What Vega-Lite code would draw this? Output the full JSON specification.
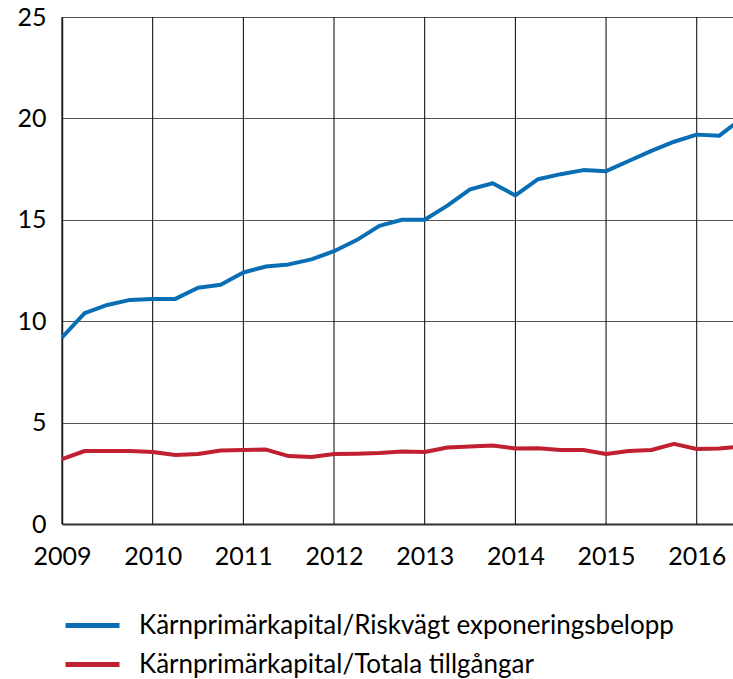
{
  "$schema": "https://vega.github.io/schema/vega-lite/v6.json",
  "width": 671,
  "height": 507,
  "autosize": {"type": "none"},
  "padding": {"left": 62, "top": 17, "right": 0, "bottom": 155},
  "background": "white",
  "config": {
    "font": "Lato",
    "view": {"stroke": null},
    "axis": {"labelFont": "Lato", "labelFontSize": 25, "labelColor": "#000", "ticks": false, "title": null}
  },
  "data": {
    "values": [
      {"t": 2009.0, "s": "Kärnprimärkapital/Riskvägt exponeringsbelopp", "v": 9.2},
      {"t": 2009.25, "s": "Kärnprimärkapital/Riskvägt exponeringsbelopp", "v": 10.4},
      {"t": 2009.5, "s": "Kärnprimärkapital/Riskvägt exponeringsbelopp", "v": 10.8},
      {"t": 2009.75, "s": "Kärnprimärkapital/Riskvägt exponeringsbelopp", "v": 11.05},
      {"t": 2010.0, "s": "Kärnprimärkapital/Riskvägt exponeringsbelopp", "v": 11.1},
      {"t": 2010.25, "s": "Kärnprimärkapital/Riskvägt exponeringsbelopp", "v": 11.1},
      {"t": 2010.5, "s": "Kärnprimärkapital/Riskvägt exponeringsbelopp", "v": 11.65},
      {"t": 2010.75, "s": "Kärnprimärkapital/Riskvägt exponeringsbelopp", "v": 11.8},
      {"t": 2011.0, "s": "Kärnprimärkapital/Riskvägt exponeringsbelopp", "v": 12.4},
      {"t": 2011.25, "s": "Kärnprimärkapital/Riskvägt exponeringsbelopp", "v": 12.7},
      {"t": 2011.5, "s": "Kärnprimärkapital/Riskvägt exponeringsbelopp", "v": 12.8},
      {"t": 2011.75, "s": "Kärnprimärkapital/Riskvägt exponeringsbelopp", "v": 13.05},
      {"t": 2012.0, "s": "Kärnprimärkapital/Riskvägt exponeringsbelopp", "v": 13.45},
      {"t": 2012.25, "s": "Kärnprimärkapital/Riskvägt exponeringsbelopp", "v": 14.0},
      {"t": 2012.5, "s": "Kärnprimärkapital/Riskvägt exponeringsbelopp", "v": 14.7},
      {"t": 2012.75, "s": "Kärnprimärkapital/Riskvägt exponeringsbelopp", "v": 15.0},
      {"t": 2013.0, "s": "Kärnprimärkapital/Riskvägt exponeringsbelopp", "v": 15.0},
      {"t": 2013.25, "s": "Kärnprimärkapital/Riskvägt exponeringsbelopp", "v": 15.7},
      {"t": 2013.5, "s": "Kärnprimärkapital/Riskvägt exponeringsbelopp", "v": 16.5},
      {"t": 2013.75, "s": "Kärnprimärkapital/Riskvägt exponeringsbelopp", "v": 16.8},
      {"t": 2014.0, "s": "Kärnprimärkapital/Riskvägt exponeringsbelopp", "v": 16.2},
      {"t": 2014.25, "s": "Kärnprimärkapital/Riskvägt exponeringsbelopp", "v": 17.0},
      {"t": 2014.5, "s": "Kärnprimärkapital/Riskvägt exponeringsbelopp", "v": 17.25},
      {"t": 2014.75, "s": "Kärnprimärkapital/Riskvägt exponeringsbelopp", "v": 17.45},
      {"t": 2015.0, "s": "Kärnprimärkapital/Riskvägt exponeringsbelopp", "v": 17.4},
      {"t": 2015.25, "s": "Kärnprimärkapital/Riskvägt exponeringsbelopp", "v": 17.9},
      {"t": 2015.5, "s": "Kärnprimärkapital/Riskvägt exponeringsbelopp", "v": 18.4},
      {"t": 2015.75, "s": "Kärnprimärkapital/Riskvägt exponeringsbelopp", "v": 18.85},
      {"t": 2016.0, "s": "Kärnprimärkapital/Riskvägt exponeringsbelopp", "v": 19.2},
      {"t": 2016.25, "s": "Kärnprimärkapital/Riskvägt exponeringsbelopp", "v": 19.15},
      {"t": 2016.5, "s": "Kärnprimärkapital/Riskvägt exponeringsbelopp", "v": 20.0},
      {"t": 2009.0, "s": "Kärnprimärkapital/Totala tillgångar", "v": 3.2},
      {"t": 2009.25, "s": "Kärnprimärkapital/Totala tillgångar", "v": 3.6},
      {"t": 2009.5, "s": "Kärnprimärkapital/Totala tillgångar", "v": 3.6},
      {"t": 2009.75, "s": "Kärnprimärkapital/Totala tillgångar", "v": 3.6},
      {"t": 2010.0, "s": "Kärnprimärkapital/Totala tillgångar", "v": 3.55},
      {"t": 2010.25, "s": "Kärnprimärkapital/Totala tillgångar", "v": 3.4},
      {"t": 2010.5, "s": "Kärnprimärkapital/Totala tillgångar", "v": 3.45},
      {"t": 2010.75, "s": "Kärnprimärkapital/Totala tillgångar", "v": 3.62},
      {"t": 2011.0, "s": "Kärnprimärkapital/Totala tillgångar", "v": 3.65},
      {"t": 2011.25, "s": "Kärnprimärkapital/Totala tillgångar", "v": 3.67},
      {"t": 2011.5, "s": "Kärnprimärkapital/Totala tillgångar", "v": 3.35},
      {"t": 2011.75, "s": "Kärnprimärkapital/Totala tillgångar", "v": 3.3},
      {"t": 2012.0, "s": "Kärnprimärkapital/Totala tillgångar", "v": 3.45},
      {"t": 2012.25, "s": "Kärnprimärkapital/Totala tillgångar", "v": 3.47},
      {"t": 2012.5, "s": "Kärnprimärkapital/Totala tillgångar", "v": 3.5},
      {"t": 2012.75, "s": "Kärnprimärkapital/Totala tillgångar", "v": 3.58},
      {"t": 2013.0, "s": "Kärnprimärkapital/Totala tillgångar", "v": 3.55},
      {"t": 2013.25, "s": "Kärnprimärkapital/Totala tillgångar", "v": 3.77},
      {"t": 2013.5, "s": "Kärnprimärkapital/Totala tillgångar", "v": 3.82},
      {"t": 2013.75, "s": "Kärnprimärkapital/Totala tillgångar", "v": 3.87},
      {"t": 2014.0, "s": "Kärnprimärkapital/Totala tillgångar", "v": 3.72},
      {"t": 2014.25, "s": "Kärnprimärkapital/Totala tillgångar", "v": 3.73},
      {"t": 2014.5, "s": "Kärnprimärkapital/Totala tillgångar", "v": 3.65},
      {"t": 2014.75, "s": "Kärnprimärkapital/Totala tillgångar", "v": 3.65},
      {"t": 2015.0, "s": "Kärnprimärkapital/Totala tillgångar", "v": 3.45},
      {"t": 2015.25, "s": "Kärnprimärkapital/Totala tillgångar", "v": 3.6},
      {"t": 2015.5, "s": "Kärnprimärkapital/Totala tillgångar", "v": 3.65},
      {"t": 2015.75, "s": "Kärnprimärkapital/Totala tillgångar", "v": 3.95},
      {"t": 2016.0, "s": "Kärnprimärkapital/Totala tillgångar", "v": 3.7},
      {"t": 2016.25, "s": "Kärnprimärkapital/Totala tillgångar", "v": 3.72},
      {"t": 2016.5, "s": "Kärnprimärkapital/Totala tillgångar", "v": 3.82}
    ]
  },
  "layer": [
    {
      "mark": {"type": "rule", "color": "#000", "strokeWidth": 1},
      "data": {"values": [{"yr": 2009}, {"yr": 2010}, {"yr": 2011}, {"yr": 2012}, {"yr": 2013}, {"yr": 2014}, {"yr": 2015}, {"yr": 2016}]},
      "encoding": {
        "x": {"field": "yr", "type": "quantitative", "scale": {"domain": [2009, 2016.4], "nice": false, "zero": false}}
      }
    },
    {
      "mark": {"type": "line", "strokeWidth": 4, "clip": true, "strokeJoin": "round"},
      "encoding": {
        "x": {
          "field": "t",
          "type": "quantitative",
          "scale": {"domain": [2009, 2016.4], "nice": false, "zero": false},
          "axis": {
            "values": [2009, 2010, 2011, 2012, 2013, 2014, 2015, 2016],
            "format": "d",
            "grid": false,
            "domainColor": "#333",
            "domainWidth": 2,
            "labelPadding": 20,
            "labelFlush": false
          }
        },
        "y": {
          "field": "v",
          "type": "quantitative",
          "scale": {"domain": [0, 25], "nice": false},
          "axis": {
            "values": [0, 5, 10, 15, 20, 25],
            "grid": true,
            "gridColor": "#555",
            "gridWidth": 1,
            "gridOpacity": 1,
            "domainColor": "#333",
            "domainWidth": 1.5,
            "labelPadding": 16,
            "labelFlush": false
          }
        },
        "color": {
          "field": "s",
          "type": "nominal",
          "scale": {"range": ["#0a6eb4", "#c0202f"]},
          "legend": {
            "orient": "none",
            "legendX": 1,
            "legendY": 589,
            "title": null,
            "symbolType": "stroke",
            "symbolSize": 2916,
            "symbolStrokeWidth": 5,
            "labelFont": "Lato",
            "labelFontSize": 26,
            "labelColor": "#000",
            "labelOffset": 17,
            "rowPadding": 0,
            "clipHeight": 39,
            "labelLimit": 700
          }
        }
      }
    }
  ]
}
